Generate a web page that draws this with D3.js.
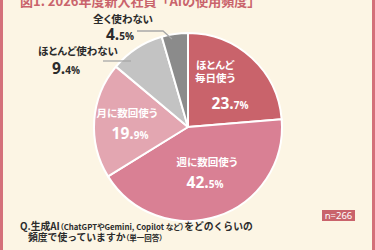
<!DOCTYPE html>
<html><head><meta charset="utf-8">
<script src="https://cdn.jsdelivr.net/npm/d3@7"></script>
<style>
html,body{margin:0;padding:0;background:#fcf5e4;}
svg{display:block;font-family:"Noto Sans CJK JP","Noto Sans",sans-serif;}
.p{font-feature-settings:"palt";}
</style></head>
<body>
<svg id="c" width="375" height="250"></svg>
<script>
const categories = ["ほとんど毎日使う","週に数回使う","月に数回使う","ほとんど使わない","全く使わない"];
const labelLines = [["ほとんど","毎日使う"],["週に数回使う"],["月に数回使う"],["ほとんど使わない"],["全く使わない"]];
const values = [23.7, 42.5, 19.9, 9.4, 4.5];
const colors = ["#c9636b","#d98094","#e3a6b1","#c3c3c3","#8b8b8b"];
const title = "図1. 2026年度新入社員「AIの使用頻度」";
const sampleLabel = "n=266";

// label layout (offsets from pie centre)
const layout = [
  {tx:27, ty:-62, px:42, py:-24, inside:true},
  {tx:19, ty:35, px:17, py:55, inside:true},
  {tx:-61, ty:-14, px:-58, py:6, inside:true},
  {tx:-110, ty:-76, px:-122, py:-59, inside:false, line:[[-85,-66],[-57,-66]]},
  {tx:-65, ty:-108, px:-68, py:-93, inside:false, line:[[-51,-96],[-25,-96],[-16,-88]]}
];

const svg = d3.select("#c");
const W = 375, H = 250;
svg.append("rect").attr("x",0).attr("y",0).attr("width",W).attr("height",H).attr("fill","#fcf5e4");
svg.append("rect").attr("x",1.5).attr("y",-20).attr("width",W-3).attr("height",H+40)
  .attr("fill","none").attr("stroke","#d4707a").attr("stroke-width",3).attr("rx",6);

svg.append("text").attr("x",20).attr("y",6).attr("fill","#c9636b")
  .attr("font-size",13).attr("font-weight",700).text(title);

const cx = 188, cy = 127, r = 94;
const g = svg.append("g").attr("transform",`translate(${cx},${cy})`);
const pie = d3.pie().sort(null).value(d=>d)(values);
const arc = d3.arc().innerRadius(0).outerRadius(r);
g.selectAll("path.s").data(pie).join("path").attr("class","s")
  .attr("d",arc).attr("fill",(d,i)=>colors[i])
  .attr("stroke","#fff").attr("stroke-width",2).attr("stroke-linejoin","round");

const fmt = d3.format(".1f");
pie.forEach((d,i)=>{
  const L = layout[i];
  const col = L.inside ? "#fff" : "#2b2b2b";
  if (L.line) {
    g.append("path").attr("d", d3.line()(L.line)).attr("fill","none")
      .attr("stroke","#a8a8a8").attr("stroke-width",1.3);
  }
  labelLines[i].forEach((s,k)=>{
    g.append("text").attr("class","p").attr("x",L.tx).attr("y",L.ty + 4 + k*13)
      .attr("text-anchor","middle").attr("fill",col).attr("font-size",10.5)
      .attr("font-weight",700).text(s);
  });
  const parts = fmt(values[i]).split(".");
  const t = g.append("text").attr("x",L.px).attr("y",L.py+5.5)
    .attr("text-anchor","middle").attr("fill",col).attr("font-weight",700)
    .attr("font-family","'Open Sans','Noto Sans',sans-serif");
  t.append("tspan").attr("font-size",15.5).text(parts[0]+".");
  t.append("tspan").attr("font-size",10).text(parts[1]+"%");
});

// n badge
const bx = 322, by = 210;
svg.append("rect").attr("x",bx).attr("y",by).attr("width",33).attr("height",11).attr("fill","#c9636b");
svg.append("text").attr("x",bx+16.5).attr("y",by+9).attr("text-anchor","middle")
  .attr("fill","#fff").attr("font-size",9.5).attr("font-family","'Noto Sans',sans-serif").text(sampleLabel);

// question
const q1 = svg.append("text").attr("x",20).attr("y",230).attr("fill","#2b2b2b").attr("font-weight",700).attr("font-size",9.8);
q1.append("tspan").text("Q.生成AI");
q1.append("tspan").attr("class","p").attr("font-size",7.8).text("（ChatGPTやGemini, Copilot など）");
q1.append("tspan").text("をどのくらいの");
const q2 = svg.append("text").attr("x",28).attr("y",241).attr("fill","#2b2b2b").attr("font-weight",700).attr("font-size",9.8);
q2.append("tspan").text("頻度で使っていますか");
q2.append("tspan").attr("class","p").attr("font-size",7.5).text("（単一回答）");
</script>
</body></html>
